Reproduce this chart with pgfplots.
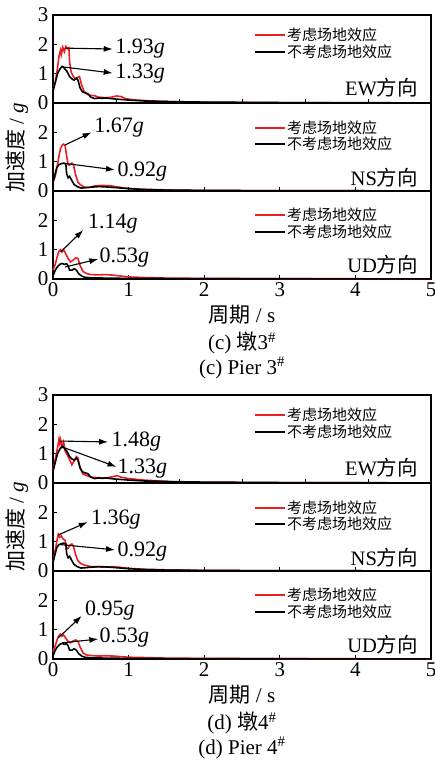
\documentclass[border=0pt]{standalone}
\usepackage{fontspec}
\usepackage{pgfplots}
\pgfplotsset{compat=1.18}
\usetikzlibrary{arrows.meta}
\setmainfont{Liberation Serif}
\newfontfamily\cjk{Noto Sans CJK SC}
\definecolor{cred}{RGB}{235,30,35}
\newcommand\fbig{\fontsize{21}{23}\selectfont}
\newcommand\fann{\fontsize{22}{24}\selectfont}
\newcommand\ftick{\fontsize{21}{22}\selectfont}
\newcommand\fleg{\fontsize{15}{16}\selectfont}
\newcommand\fdir{\fontsize{20.5}{22}\selectfont}
\tikzset{
  rline/.style={draw=cred, line width=1.6pt},
  bline/.style={draw=black, line width=1.6pt},
  arr/.style={-{Latex[length=9pt,width=6pt]}, line width=1.1pt, black},
}
\pgfplotsset{
  panel/.style={
    scale only axis, width=378pt, height=88pt,
    anchor=south west,
    xmin=0, xmax=5, ymin=0, ymax=3,
    clip=false,
    axis line style={line width=1.1pt},
    tick align=inside, major tick length=4pt,
    every tick/.style={line width=0.9pt, black},
    xtick pos=left, ytick pos=left,
    ticklabel style={font=\ftick},
    /pgf/number format/assume math mode=true,
    yticklabel style={xshift=-1pt},
  },
  p1/.style={panel, ytick={0,1,2,3}, xtick={0,0.8333,1.6667,2.5,3.3333,4.1667,5}, xticklabels={}},
  p2/.style={panel, ytick={0,1,2}, xtick={0,1,2,3,4,5}, xticklabels={}},
  p3/.style={panel, ytick={0,1,2}, xtick={0,1,2,3,4,5}},
}
\newcommand\leg[2]{%
  \draw[draw=cred, line width=1.5pt] (255pt,#1pt) -- (285pt,#1pt);
  \node[anchor=west, inner sep=0pt, font=\fleg] at (287pt,#1pt) {\cjk 考虑场地效应};
  \draw[draw=black, line width=1.5pt] (255pt,#2pt) -- (285pt,#2pt);
  \node[anchor=west, inner sep=0pt, font=\fleg] at (287pt,#2pt) {\cjk 不考虑场地效应};
}
\newcommand\ann[3]{\node[anchor=west, inner sep=1pt, font=\fann] at (axis cs:#1,#2) {#3\textit{g}};}

% black (no site effect) series shared by both piers
\newcommand\blackEW{\addplot[bline] coordinates {(0,0.4) (0.03,0.7) (0.06,1.0) (0.09,1.15) (0.12,1.25) (0.14,1.22) (0.16,1.15) (0.18,1.1) (0.2,1.0) (0.22,0.9) (0.25,0.82) (0.28,0.78) (0.31,0.85) (0.33,0.78) (0.36,0.5) (0.39,0.38) (0.42,0.35) (0.46,0.32) (0.5,0.2) (0.55,0.15) (0.6,0.17) (0.65,0.16) (0.7,0.17) (0.8,0.14) (0.9,0.12) (1.0,0.1) (1.2,0.07) (1.5,0.05) (2,0.03) (3,0.015) (4,0.008) (5,0.005)};}
\newcommand\blackNS{\addplot[bline] coordinates {(0,0.3) (0.03,0.6) (0.05,0.8) (0.08,0.9) (0.11,0.93) (0.14,0.95) (0.17,0.92) (0.18,0.6) (0.2,0.45) (0.22,0.5) (0.25,0.35) (0.28,0.22) (0.32,0.15) (0.37,0.1) (0.42,0.11) (0.5,0.13) (0.6,0.15) (0.7,0.14) (0.8,0.12) (0.9,0.1) (1.0,0.08) (1.2,0.05) (1.5,0.03) (2,0.02) (3,0.01) (5,0.004)};}
\newcommand\blackUD{\addplot[bline] coordinates {(0,0.1) (0.03,0.3) (0.06,0.42) (0.09,0.5) (0.12,0.53) (0.15,0.5) (0.18,0.52) (0.2,0.45) (0.22,0.3) (0.25,0.3) (0.28,0.35) (0.31,0.3) (0.34,0.18) (0.38,0.1) (0.42,0.06) (0.5,0.04) (0.7,0.03) (1,0.02) (2,0.01) (5,0.003)};}

\begin{document}
\begin{tikzpicture}
\path[use as bounding box] (0,0) rectangle (435pt,761pt);

% ===== Pier 3 =====
\begin{axis}[p1, at={(53pt,658pt)}]
\addplot[rline] coordinates {(0,0.45) (0.03,0.7) (0.06,1.2) (0.08,1.6) (0.1,1.8) (0.11,1.65) (0.13,1.9) (0.15,1.75) (0.17,1.93) (0.19,1.85) (0.21,1.88) (0.22,1.4) (0.24,1.05) (0.27,0.9) (0.3,0.82) (0.33,0.88) (0.35,0.9) (0.38,0.6) (0.41,0.4) (0.45,0.3) (0.5,0.26) (0.55,0.25) (0.6,0.2) (0.7,0.18) (0.78,0.2) (0.84,0.24) (0.9,0.22) (0.95,0.16) (1.0,0.13) (1.1,0.1) (1.3,0.07) (1.5,0.05) (1.8,0.03) (2.2,0.02) (3,0.01) (4,0.005) (5,0.003)};
\blackEW
\draw[arr] (axis cs:0.16,1.87) -- (axis cs:0.79,1.84);
\draw[arr] (axis cs:0.13,1.23) -- (axis cs:0.79,1.02);
\ann{0.81}{1.86}{1.93}
\ann{0.81}{1.0}{1.33}
\node[anchor=east, inner sep=0pt, font=\fdir] at (axis cs:4.83,0.51) {EW{\cjk 方向}};
\end{axis}
\leg{726}{709}

\begin{axis}[p2, at={(53pt,570pt)}]
\addplot[rline] coordinates {(0,0.3) (0.03,0.5) (0.06,0.9) (0.08,1.2) (0.1,1.45) (0.12,1.55) (0.14,1.6) (0.16,1.55) (0.18,1.2) (0.2,0.9) (0.22,0.88) (0.25,0.95) (0.27,0.9) (0.3,0.55) (0.33,0.3) (0.37,0.2) (0.42,0.13) (0.47,0.12) (0.55,0.17) (0.65,0.19) (0.75,0.18) (0.85,0.14) (0.95,0.1) (1.1,0.07) (1.3,0.05) (1.6,0.03) (2,0.02) (3,0.01) (5,0.004)};
\blackNS
\draw[arr] (axis cs:0.16,1.57) -- (axis cs:0.51,2.0);
\draw[arr] (axis cs:0.13,0.95) -- (axis cs:0.82,0.72);
\ann{0.53}{2.15}{1.67}
\ann{0.84}{0.66}{0.92}
\node[anchor=east, inner sep=0pt, font=\fdir] at (axis cs:4.83,0.44) {NS{\cjk 方向}};
\end{axis}
\leg{633}{617}

\begin{axis}[p3, at={(53pt,482pt)}]
\addplot[rline] coordinates {(0,0.3) (0.03,0.5) (0.06,0.8) (0.08,0.95) (0.1,1.0) (0.12,0.92) (0.14,1.0) (0.17,0.85) (0.2,0.7) (0.23,0.58) (0.27,0.65) (0.3,0.72) (0.33,0.7) (0.36,0.45) (0.4,0.25) (0.45,0.18) (0.5,0.15) (0.6,0.14) (0.7,0.15) (0.8,0.13) (0.9,0.1) (1.0,0.07) (1.2,0.05) (1.5,0.03) (2,0.02) (3,0.01) (5,0.004)};
\blackUD
\draw[arr] (axis cs:0.1,0.92) -- (axis cs:0.4,1.67);
\draw[arr] (axis cs:0.16,0.41) -- (axis cs:0.6,0.68);
\ann{0.45}{1.9}{1.14}
\ann{0.6}{0.72}{0.53}
\node[anchor=east, inner sep=0pt, font=\fdir] at (axis cs:4.83,0.48) {UD{\cjk 方向}};
\end{axis}
\leg{546}{529}

\node[rotate=90, font=\fbig] at (17pt,613pt) {{\cjk 加速度} / \textit{g}};
\node[font=\fbig] at (242pt,446pt) {{\cjk 周期} / s};
\node[font=\fbig] at (242pt,418pt) {(c) {\cjk 墩}3\textsuperscript{\#}};
\node[font=\fbig] at (242pt,393pt) {(c) Pier 3\textsuperscript{\#}};

% ===== Pier 4 =====
\begin{axis}[p1, at={(53pt,278pt)}]
\addplot[rline] coordinates {(0,0.45) (0.03,0.8) (0.06,1.2) (0.08,1.5) (0.09,1.35) (0.1,1.48) (0.12,1.25) (0.14,1.4) (0.16,1.1) (0.19,0.95) (0.22,0.8) (0.25,0.62) (0.28,0.75) (0.31,0.9) (0.33,0.85) (0.36,0.5) (0.4,0.3) (0.45,0.25) (0.5,0.2) (0.6,0.18) (0.7,0.17) (0.8,0.22) (0.85,0.25) (0.9,0.2) (1.0,0.15) (1.2,0.1) (1.4,0.07) (1.6,0.04) (2,0.02) (3,0.01) (5,0.004)};
\blackEW
\draw[arr] (axis cs:0.09,1.43) -- (axis cs:0.73,1.40);
\draw[arr] (axis cs:0.12,1.23) -- (axis cs:0.84,0.55);
\ann{0.76}{1.4}{1.48}
\ann{0.84}{0.48}{1.33}
\node[anchor=east, inner sep=0pt, font=\fdir] at (axis cs:4.83,0.51) {EW{\cjk 方向}};
\end{axis}
\leg{346}{329}

\begin{axis}[p2, at={(53pt,190pt)}]
\addplot[rline] coordinates {(0,0.3) (0.03,0.7) (0.05,1.0) (0.07,1.25) (0.09,1.15) (0.11,1.2) (0.13,1.1) (0.16,1.05) (0.18,0.75) (0.2,0.78) (0.23,0.9) (0.25,0.92) (0.27,0.85) (0.3,0.55) (0.33,0.35) (0.37,0.25) (0.42,0.2) (0.5,0.15) (0.6,0.14) (0.7,0.13) (0.8,0.15) (0.9,0.12) (1.0,0.09) (1.2,0.06) (1.5,0.04) (2,0.02) (3,0.01) (5,0.004)};
\blackNS
\draw[arr] (axis cs:0.07,1.23) -- (axis cs:0.46,1.67);
\draw[arr] (axis cs:0.1,0.9) -- (axis cs:0.82,0.72);
\ann{0.49}{1.77}{1.36}
\ann{0.84}{0.66}{0.92}
\node[anchor=east, inner sep=0pt, font=\fdir] at (axis cs:4.83,0.44) {NS{\cjk 方向}};
\end{axis}
\leg{253}{237}

\begin{axis}[p3, at={(53pt,102pt)}]
\addplot[rline] coordinates {(0,0.25) (0.03,0.45) (0.06,0.7) (0.08,0.8) (0.1,0.85) (0.12,0.78) (0.14,0.82) (0.17,0.7) (0.2,0.6) (0.23,0.55) (0.27,0.62) (0.3,0.65) (0.33,0.6) (0.36,0.4) (0.4,0.2) (0.45,0.13) (0.5,0.12) (0.6,0.1) (0.7,0.11) (0.8,0.1) (0.9,0.08) (1.0,0.06) (1.2,0.05) (1.5,0.03) (2,0.02) (3,0.01) (5,0.004)};
\blackUD
\draw[arr] (axis cs:0.07,0.72) -- (axis cs:0.38,1.47);
\draw[arr] (axis cs:0.12,0.55) -- (axis cs:0.6,0.68);
\ann{0.41}{1.64}{0.95}
\ann{0.6}{0.72}{0.53}
\node[anchor=east, inner sep=0pt, font=\fdir] at (axis cs:4.83,0.48) {UD{\cjk 方向}};
\end{axis}
\leg{166}{149}

\node[rotate=90, font=\fbig] at (17pt,234pt) {{\cjk 加速度} / \textit{g}};
\node[font=\fbig] at (242pt,66pt) {{\cjk 周期} / s};
\node[font=\fbig] at (242pt,38pt) {(d) {\cjk 墩}4\textsuperscript{\#}};
\node[font=\fbig] at (242pt,13pt) {(d) Pier 4\textsuperscript{\#}};
\end{tikzpicture}
\end{document}
